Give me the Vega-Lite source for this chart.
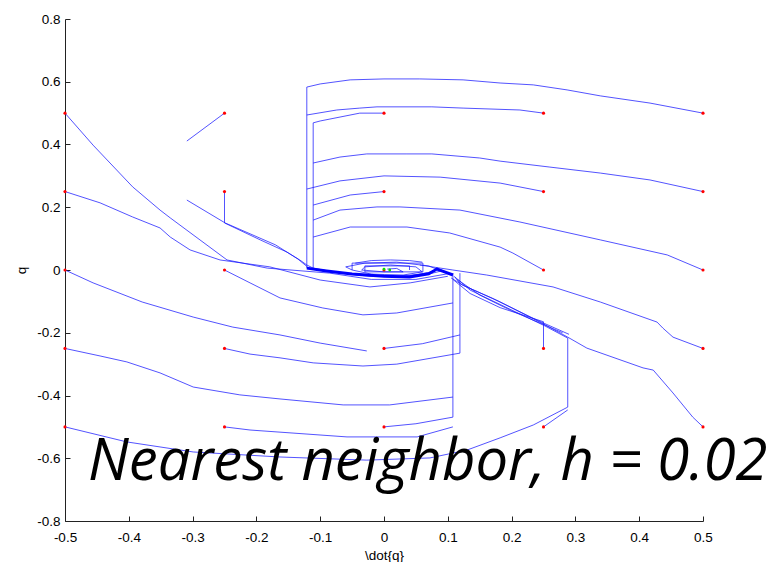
{
  "$schema": "https://vega.github.io/schema/vega-lite/v6.json",
  "width": 638,
  "height": 502,
  "autosize": "none",
  "padding": {"left": 65, "top": 19, "right": 70, "bottom": 41},
  "background": "white",
  "config": {
    "view": {"stroke": null},
    "axis": {"grid": false, "tickSize": -5, "domainColor": "#222222", "tickColor": "#222222", "labelColor": "black",
             "labelFont": "Liberation Sans", "labelFontSize": 13.5, "labelFlush": false, "labelOverlap": false,
             "titleFont": "Liberation Sans", "titleFontSize": 13.5, "titleFontWeight": "normal", "titleColor": "black"},
    "axisX": {"labelPadding": 14, "titlePadding": 5},
    "axisY": {"labelPadding": 10, "titlePadding": 8}
  },
  "datasets": {
    "traj": [
      {"t":1,"i":0,"x":0.5,"y":0.5},{"t":1,"i":1,"x":0.417,"y":0.532},{"t":1,"i":2,"x":0.339,"y":0.555},{"t":1,"i":3,"x":0.287,"y":0.574},{"t":1,"i":4,"x":0.234,"y":0.59},{"t":1,"i":5,"x":0.182,"y":0.596},{"t":1,"i":6,"x":0.124,"y":0.606},{"t":1,"i":7,"x":0.056,"y":0.609},{"t":1,"i":8,"x":0,"y":0.609},{"t":1,"i":9,"x":-0.053,"y":0.606},{"t":1,"i":10,"x":-0.1,"y":0.593},{"t":1,"i":11,"x":-0.121,"y":0.583},{"t":1,"i":12,"x":-0.121,"y":0.006},{"t":1,"i":13,"x":-0.1,"y":0.0},{"t":1,"i":14,"x":-0.069,"y":-0.01},{"t":1,"i":15,"x":-0.022,"y":-0.02},{"t":1,"i":16,"x":0.03,"y":-0.022},{"t":1,"i":17,"x":0.075,"y":-0.006},{"t":1,"i":18,"x":0.083,"y":0.006},{"t":1,"i":19,"x":0.108,"y":-0.016},
      {"t":2,"i":0,"x":0.25,"y":0.5},{"t":2,"i":1,"x":0.213,"y":0.51},{"t":2,"i":2,"x":0.124,"y":0.516},{"t":2,"i":3,"x":0.075,"y":0.52},{"t":2,"i":4,"x":-0.011,"y":0.52},{"t":2,"i":5,"x":-0.038,"y":0.516},{"t":2,"i":6,"x":-0.074,"y":0.51},{"t":2,"i":7,"x":-0.121,"y":0.494},
      {"t":3,"i":0,"x":0,"y":0.5},{"t":3,"i":1,"x":-0.038,"y":0.5},{"t":3,"i":2,"x":-0.1,"y":0.475},{"t":3,"i":3,"x":-0.111,"y":0.469},{"t":3,"i":4,"x":-0.111,"y":0.006},{"t":3,"i":5,"x":-0.08,"y":-0.006},{"t":3,"i":6,"x":-0.04,"y":-0.016},{"t":3,"i":7,"x":0.02,"y":-0.019},{"t":3,"i":8,"x":0.07,"y":-0.013},{"t":3,"i":9,"x":0.09,"y":-0.003},{"t":3,"i":10,"x":0.07,"y":0.013},{"t":3,"i":11,"x":0.02,"y":0.025},{"t":3,"i":12,"x":-0.03,"y":0.022},{"t":3,"i":13,"x":-0.06,"y":0.01},{"t":3,"i":14,"x":-0.05,"y":0.0},{"t":3,"i":15,"x":-0.02,"y":-0.013},{"t":3,"i":16,"x":0.03,"y":-0.016},{"t":3,"i":17,"x":0.06,"y":-0.006},{"t":3,"i":18,"x":0.05,"y":0.01},{"t":3,"i":19,"x":0.01,"y":0.016},{"t":3,"i":20,"x":-0.03,"y":0.01},{"t":3,"i":21,"x":-0.035,"y":0.0},{"t":3,"i":22,"x":0.0,"y":-0.006},{"t":3,"i":23,"x":0.03,"y":-0.006},{"t":3,"i":24,"x":0.02,"y":0.005},{"t":3,"i":25,"x":0.005,"y":0.003},
      {"t":4,"i":0,"x":0.5,"y":0.25},{"t":4,"i":1,"x":0.417,"y":0.287},{"t":4,"i":2,"x":0.339,"y":0.309},{"t":4,"i":3,"x":0.26,"y":0.328},{"t":4,"i":4,"x":0.182,"y":0.347},{"t":4,"i":5,"x":0.15,"y":0.357},{"t":4,"i":6,"x":0.075,"y":0.37},{"t":4,"i":7,"x":0.036,"y":0.37},{"t":4,"i":8,"x":-0.027,"y":0.37},{"t":4,"i":9,"x":-0.069,"y":0.36},{"t":4,"i":10,"x":-0.111,"y":0.341},
      {"t":5,"i":0,"x":0.25,"y":0.25},{"t":5,"i":1,"x":0.182,"y":0.277},{"t":5,"i":2,"x":0.088,"y":0.296},{"t":5,"i":3,"x":0,"y":0.3},{"t":5,"i":4,"x":-0.069,"y":0.284},{"t":5,"i":5,"x":-0.121,"y":0.258},
      {"t":6,"i":0,"x":0,"y":0.25},{"t":6,"i":1,"x":-0.053,"y":0.239},{"t":6,"i":2,"x":-0.111,"y":0.207},
      {"t":7,"i":0,"x":0.5,"y":0},{"t":7,"i":1,"x":0.444,"y":0.048},{"t":7,"i":2,"x":0.339,"y":0.096},{"t":7,"i":3,"x":0.213,"y":0.153},{"t":7,"i":4,"x":0.119,"y":0.191},{"t":7,"i":5,"x":0.025,"y":0.201},{"t":7,"i":6,"x":-0.011,"y":0.201},{"t":7,"i":7,"x":-0.069,"y":0.191},{"t":7,"i":8,"x":-0.111,"y":0.159},
      {"t":8,"i":0,"x":0.25,"y":0},{"t":8,"i":1,"x":0.202,"y":0.054},{"t":8,"i":2,"x":0.182,"y":0.073},{"t":8,"i":3,"x":0.103,"y":0.118},{"t":8,"i":4,"x":0.036,"y":0.137},{"t":8,"i":5,"x":-0.053,"y":0.137},{"t":8,"i":6,"x":-0.111,"y":0.105},
      {"t":9,"i":0,"x":-0.5,"y":0.5},{"t":9,"i":1,"x":-0.456,"y":0.398},{"t":9,"i":2,"x":-0.394,"y":0.265},{"t":9,"i":3,"x":-0.351,"y":0.191},{"t":9,"i":4,"x":-0.335,"y":0.166},{"t":9,"i":5,"x":-0.246,"y":0.032},{"t":9,"i":6,"x":-0.183,"y":0.006},{"t":9,"i":7,"x":-0.085,"y":-0.01},{"t":9,"i":8,"x":-0.02,"y":-0.03},{"t":9,"i":9,"x":0.05,"y":-0.03},{"t":9,"i":10,"x":0.1,"y":-0.012},
      {"t":10,"i":0,"x":-0.5,"y":0.25},{"t":10,"i":1,"x":-0.445,"y":0.214},{"t":10,"i":2,"x":-0.394,"y":0.169},{"t":10,"i":3,"x":-0.351,"y":0.134},{"t":10,"i":4,"x":-0.335,"y":0.105},{"t":10,"i":5,"x":-0.304,"y":0.064},{"t":10,"i":6,"x":-0.257,"y":0.032},{"t":10,"i":7,"x":-0.179,"y":0.01},{"t":10,"i":8,"x":-0.1,"y":-0.032},{"t":10,"i":9,"x":-0.022,"y":-0.054},{"t":10,"i":10,"x":0.041,"y":-0.041},{"t":10,"i":11,"x":0.1,"y":-0.02},
      {"t":11,"i":0,"x":-0.25,"y":0.5},{"t":11,"i":1,"x":-0.309,"y":0.411},
      {"t":12,"i":0,"x":-0.25,"y":0.25},{"t":12,"i":1,"x":-0.25,"y":0.15},{"t":12,"i":2,"x":-0.194,"y":0.096},{"t":12,"i":3,"x":-0.152,"y":0.057},{"t":12,"i":4,"x":-0.132,"y":0.032},{"t":12,"i":5,"x":-0.121,"y":0.016},{"t":12,"i":6,"x":-0.111,"y":0.006},
      {"t":13,"i":0,"x":-0.309,"y":0.223},{"t":13,"i":1,"x":-0.249,"y":0.15},{"t":13,"i":2,"x":-0.17,"y":0.08},{"t":13,"i":3,"x":-0.135,"y":0.035},{"t":13,"i":4,"x":-0.12,"y":0.01},
      {"t":14,"i":0,"x":-0.25,"y":0},{"t":14,"i":1,"x":-0.21,"y":-0.041},{"t":14,"i":2,"x":-0.163,"y":-0.089},{"t":14,"i":3,"x":-0.096,"y":-0.121},{"t":14,"i":4,"x":-0.033,"y":-0.143},{"t":14,"i":5,"x":0.02,"y":-0.137},{"t":14,"i":6,"x":0.108,"y":-0.105},
      {"t":15,"i":0,"x":-0.5,"y":0},{"t":15,"i":1,"x":-0.456,"y":-0.041},{"t":15,"i":2,"x":-0.379,"y":-0.102},{"t":15,"i":3,"x":-0.299,"y":-0.15},{"t":15,"i":4,"x":-0.237,"y":-0.182},{"t":15,"i":5,"x":-0.163,"y":-0.207},{"t":15,"i":6,"x":-0.1,"y":-0.233},{"t":15,"i":7,"x":-0.027,"y":-0.258},
      {"t":16,"i":0,"x":0,"y":-0.25},{"t":16,"i":1,"x":0.06,"y":-0.235},{"t":16,"i":2,"x":0.119,"y":-0.207},
      {"t":17,"i":0,"x":-0.25,"y":-0.25},{"t":17,"i":1,"x":-0.21,"y":-0.268},{"t":17,"i":2,"x":-0.163,"y":-0.28},{"t":17,"i":3,"x":-0.111,"y":-0.296},{"t":17,"i":4,"x":-0.033,"y":-0.306},{"t":17,"i":5,"x":0.02,"y":-0.3},{"t":17,"i":6,"x":0.119,"y":-0.265},{"t":17,"i":7,"x":0.119,"y":-0.01},
      {"t":18,"i":0,"x":-0.5,"y":-0.25},{"t":18,"i":1,"x":-0.445,"y":-0.274},{"t":18,"i":2,"x":-0.403,"y":-0.293},{"t":18,"i":3,"x":-0.351,"y":-0.328},{"t":18,"i":4,"x":-0.299,"y":-0.373},{"t":18,"i":5,"x":-0.226,"y":-0.398},{"t":18,"i":6,"x":-0.163,"y":-0.411},{"t":18,"i":7,"x":-0.064,"y":-0.43},{"t":18,"i":8,"x":0.009,"y":-0.43},{"t":18,"i":9,"x":0.108,"y":-0.405},
      {"t":19,"i":0,"x":0,"y":-0.5},{"t":19,"i":1,"x":0.05,"y":-0.49},{"t":19,"i":2,"x":0.108,"y":-0.469},{"t":19,"i":3,"x":0.108,"y":-0.01},
      {"t":20,"i":0,"x":-0.25,"y":-0.5},{"t":20,"i":1,"x":-0.21,"y":-0.51},{"t":20,"i":2,"x":-0.058,"y":-0.532},{"t":20,"i":3,"x":0.052,"y":-0.532},{"t":20,"i":4,"x":0.108,"y":-0.5},
      {"t":21,"i":0,"x":-0.5,"y":-0.5},{"t":21,"i":1,"x":-0.403,"y":-0.548},{"t":21,"i":2,"x":-0.299,"y":-0.58},{"t":21,"i":3,"x":-0.163,"y":-0.596},{"t":21,"i":4,"x":-0.027,"y":-0.606},{"t":21,"i":5,"x":0.072,"y":-0.599},{"t":21,"i":6,"x":0.13,"y":-0.574},{"t":21,"i":7,"x":0.182,"y":-0.535},{"t":21,"i":8,"x":0.234,"y":-0.494},{"t":21,"i":9,"x":0.288,"y":-0.437},{"t":21,"i":10,"x":0.288,"y":-0.217},{"t":21,"i":11,"x":0.252,"y":-0.178},{"t":21,"i":12,"x":0.182,"y":-0.11},{"t":21,"i":13,"x":0.135,"y":-0.064},{"t":21,"i":14,"x":0.111,"y":-0.022},
      {"t":22,"i":0,"x":0.25,"y":-0.5},{"t":22,"i":1,"x":0.288,"y":-0.446},
      {"t":23,"i":0,"x":0.25,"y":-0.25},{"t":23,"i":1,"x":0.25,"y":-0.165},{"t":23,"i":2,"x":0.182,"y":-0.12},{"t":23,"i":3,"x":0.135,"y":-0.075},{"t":23,"i":4,"x":0.108,"y":-0.03},
      {"t":24,"i":0,"x":0.5,"y":-0.5},{"t":24,"i":1,"x":0.484,"y":-0.469},{"t":24,"i":2,"x":0.453,"y":-0.392},{"t":24,"i":3,"x":0.422,"y":-0.319},{"t":24,"i":4,"x":0.406,"y":-0.312},{"t":24,"i":5,"x":0.318,"y":-0.249},{"t":24,"i":6,"x":0.288,"y":-0.214},{"t":24,"i":7,"x":0.25,"y":-0.172},{"t":24,"i":8,"x":0.18,"y":-0.1},{"t":24,"i":9,"x":0.12,"y":-0.045},{"t":24,"i":10,"x":0.11,"y":-0.02},
      {"t":25,"i":0,"x":0.5,"y":-0.25},{"t":25,"i":1,"x":0.453,"y":-0.214},{"t":25,"i":2,"x":0.437,"y":-0.185},{"t":25,"i":3,"x":0.428,"y":-0.166},{"t":25,"i":4,"x":0.339,"y":-0.102},{"t":25,"i":5,"x":0.265,"y":-0.054},{"t":25,"i":6,"x":0.161,"y":-0.016},{"t":25,"i":7,"x":0.108,"y":0},{"t":25,"i":8,"x":0.056,"y":0.016},
      {"t":26,"i":0,"x":0.29,"y":-0.205},{"t":26,"i":1,"x":0.24,"y":-0.16},{"t":26,"i":2,"x":0.17,"y":-0.09},{"t":26,"i":3,"x":0.125,"y":-0.05},{"t":26,"i":4,"x":0.105,"y":-0.025},
      {"t":27,"i":0,"x":0.28,"y":-0.2},{"t":27,"i":1,"x":0.2,"y":-0.13},{"t":27,"i":2,"x":0.15,"y":-0.08},{"t":27,"i":3,"x":0.115,"y":-0.03},
      {"t":28,"i":0,"x":-0.05,"y":0.0},{"t":28,"i":1,"x":-0.05,"y":0.022},{"t":28,"i":2,"x":0.061,"y":0.022},{"t":28,"i":3,"x":0.061,"y":-0.006},{"t":28,"i":4,"x":-0.03,"y":-0.006},{"t":28,"i":5,"x":-0.03,"y":0.013},{"t":28,"i":6,"x":0.04,"y":0.013},{"t":28,"i":7,"x":0.04,"y":0.0},
      {"t":29,"i":0,"x":-0.045,"y":0.022},{"t":29,"i":1,"x":-0.02,"y":0.03},{"t":29,"i":2,"x":0.01,"y":0.032},{"t":29,"i":3,"x":0.04,"y":0.03},{"t":29,"i":4,"x":0.06,"y":0.025}
    ],
    "thick": [
      {"i":0,"x":-0.121,"y":0.006},{"i":1,"x":-0.09,"y":-0.003},{"i":2,"x":-0.05,"y":-0.013},{"i":3,"x":0.0,"y":-0.02},{"i":4,"x":0.04,"y":-0.022},{"i":5,"x":0.07,"y":-0.012},{"i":6,"x":0.083,"y":0.003},{"i":7,"x":0.095,"y":-0.006},{"i":8,"x":0.108,"y":-0.016}
    ],
    "starts": [
      {"x":-0.5,"y":-0.5},{"x":-0.5,"y":-0.25},{"x":-0.5,"y":0},{"x":-0.5,"y":0.25},{"x":-0.5,"y":0.5},
      {"x":-0.25,"y":-0.5},{"x":-0.25,"y":-0.25},{"x":-0.25,"y":0},{"x":-0.25,"y":0.25},{"x":-0.25,"y":0.5},
      {"x":0,"y":-0.5},{"x":0,"y":-0.25},{"x":0,"y":0},{"x":0,"y":0.25},{"x":0,"y":0.5},
      {"x":0.25,"y":-0.5},{"x":0.25,"y":-0.25},{"x":0.25,"y":0},{"x":0.25,"y":0.25},{"x":0.25,"y":0.5},
      {"x":0.5,"y":-0.5},{"x":0.5,"y":-0.25},{"x":0.5,"y":0},{"x":0.5,"y":0.25},{"x":0.5,"y":0.5}
    ],
    "goal": [{"x":0.0,"y":0.003},{"x":0.009,"y":0.0}]
  },
  "layer": [
    {
      "data": {"name": "traj"},
      "mark": {"type": "line", "stroke": "#1a1aff", "strokeWidth": 1, "opacity": 0.75},
      "encoding": {
        "x": {"field": "x", "type": "quantitative", "title": "\\dot{q}",
              "scale": {"domain": [-0.5, 0.5], "nice": false, "zero": false},
              "axis": {"values": [-0.5,-0.4,-0.3,-0.2,-0.1,0,0.1,0.2,0.3,0.4,0.5],
                       "labelExpr": "toString(round(datum.value*10)/10)"}},
        "y": {"field": "y", "type": "quantitative", "title": "q",
              "scale": {"domain": [-0.8, 0.8], "nice": false, "zero": false},
              "axis": {"values": [-0.8,-0.6,-0.4,-0.2,0,0.2,0.4,0.6,0.8],
                       "labelExpr": "toString(round(datum.value*10)/10)"}},
        "detail": {"field": "t"},
        "order": {"field": "i", "type": "quantitative"}
      }
    },
    {
      "data": {"name": "thick"},
      "mark": {"type": "line", "stroke": "#0000ff", "strokeWidth": 3},
      "encoding": {
        "x": {"field": "x", "type": "quantitative", "title": "\\dot{q}"},
        "y": {"field": "y", "type": "quantitative", "title": "q"},
        "order": {"field": "i", "type": "quantitative"}
      }
    },
    {
      "data": {"name": "starts"},
      "mark": {"type": "point", "filled": true, "color": "#ff0000", "size": 10, "opacity": 1},
      "encoding": {
        "x": {"field": "x", "type": "quantitative", "title": "\\dot{q}"},
        "y": {"field": "y", "type": "quantitative", "title": "q"}
      }
    },
    {
      "data": {"name": "goal"},
      "mark": {"type": "point", "filled": true, "color": "#00dd00", "size": 8, "opacity": 1},
      "encoding": {
        "x": {"field": "x", "type": "quantitative", "title": "\\dot{q}"},
        "y": {"field": "y", "type": "quantitative", "title": "q"}
      }
    },
    {
      "data": {"values": [{}]},
      "mark": {"type": "text", "text": "Nearest neighbor, h = 0.02", "font": "Open Sans", "fontStyle": "italic", "fontSize": 58, "align": "left", "baseline": "alphabetic", "color": "black"},
      "encoding": {
        "x": {"datum": -0.464, "type": "quantitative", "title": "\\dot{q}"},
        "y": {"datum": -0.669, "type": "quantitative", "title": "q"}
      }
    }
  ]
}
